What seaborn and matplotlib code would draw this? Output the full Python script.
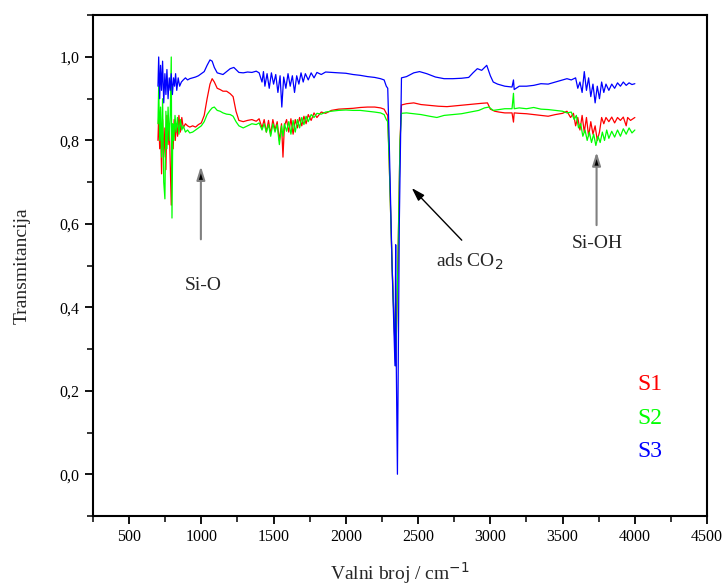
import numpy as np
import pandas as pd
import seaborn as sns
import matplotlib.pyplot as plt
from matplotlib.ticker import MultipleLocator, FuncFormatter

# S1 (red)
s1_x = [700, 705, 712, 718, 725, 732, 740, 748, 755, 762, 770, 778, 785, 792, 797, 805, 812, 820, 828, 836,
        845, 855, 865, 875, 890, 905, 920, 940, 960, 980, 1000, 1020, 1040, 1060, 1075, 1090, 1110, 1130,
        1150, 1175, 1200, 1220, 1240, 1260, 1290, 1320, 1350, 1380, 1400, 1420, 1435, 1450, 1465, 1480,
        1495, 1510, 1525, 1540, 1555, 1565, 1575, 1590, 1605, 1620, 1635, 1650, 1665, 1680, 1695, 1710,
        1725, 1740, 1760, 1780, 1800, 1830, 1860, 1900, 1950, 2000, 2050, 2100, 2150, 2200, 2240, 2265,
        2280, 2290, 2300, 2320, 2345, 2360, 2375, 2385, 2420, 2470, 2520, 2580, 2640, 2700, 2760, 2820,
        2880, 2940, 2980, 3000, 3030, 3060, 3100, 3150, 3160, 3165, 3200, 3250, 3300, 3350, 3400, 3450,
        3500, 3530, 3555, 3575, 3590, 3605, 3620, 3635, 3650, 3665, 3680, 3695, 3710, 3725, 3740, 3755,
        3770, 3785, 3800, 3820, 3840, 3860, 3880, 3900, 3920, 3940, 3950, 3970, 4000]
s1_y = [0.80, 0.86, 0.78, 0.84, 0.72, 0.85, 0.76, 0.83, 0.73, 0.86, 0.79, 0.84, 0.74, 0.645, 0.83, 0.78,
        0.85, 0.80, 0.84, 0.81, 0.86, 0.82, 0.855, 0.83, 0.84, 0.835, 0.832, 0.835, 0.832, 0.838, 0.842,
        0.86, 0.90, 0.935, 0.948, 0.94, 0.925, 0.922, 0.918, 0.918, 0.912, 0.905, 0.87, 0.848, 0.845,
        0.848, 0.85, 0.846, 0.852, 0.83, 0.85, 0.82, 0.848, 0.815, 0.85, 0.825, 0.845, 0.80, 0.84, 0.76,
        0.835, 0.85, 0.82, 0.852, 0.815, 0.85, 0.83, 0.855, 0.835, 0.858, 0.84, 0.862, 0.848, 0.866,
        0.855, 0.868, 0.865, 0.872, 0.875, 0.876, 0.877, 0.879, 0.88, 0.88, 0.878, 0.875, 0.865, 0.86,
        0.75, 0.50, 0.26, 0.50, 0.80, 0.885, 0.888, 0.89, 0.886, 0.884, 0.882, 0.881, 0.883, 0.885,
        0.887, 0.889, 0.89, 0.875, 0.87, 0.868, 0.866, 0.866, 0.844, 0.866, 0.865, 0.864, 0.862, 0.86,
        0.858, 0.862, 0.865, 0.87, 0.855, 0.865, 0.835, 0.855, 0.825, 0.86, 0.82, 0.855, 0.81, 0.845,
        0.815, 0.835, 0.80, 0.82, 0.855, 0.84, 0.855, 0.845, 0.856, 0.842, 0.855, 0.848, 0.856, 0.835,
        0.855, 0.848, 0.855]

# S2 (green)
s2_x = [700, 705, 712, 718, 725, 732, 740, 748, 755, 762, 770, 778, 785, 792, 797, 803, 810, 818, 826, 835,
        845, 855, 865, 875, 890, 905, 920, 940, 960, 980, 1000, 1020, 1040, 1060, 1075, 1090, 1110, 1130,
        1150, 1175, 1200, 1220, 1240, 1260, 1290, 1320, 1350, 1380, 1400, 1420, 1435, 1450, 1465, 1480,
        1495, 1510, 1525, 1540, 1555, 1565, 1575, 1590, 1605, 1620, 1635, 1650, 1665, 1680, 1695, 1710,
        1725, 1740, 1760, 1780, 1800, 1830, 1860, 1900, 1950, 2000, 2050, 2100, 2150, 2200, 2240, 2265,
        2280, 2290, 2300, 2320, 2345, 2360, 2375, 2385, 2420, 2470, 2520, 2580, 2630, 2680, 2740, 2800,
        2860, 2920, 2960, 2990, 3020, 3060, 3100, 3150, 3160, 3165, 3200, 3250, 3300, 3350, 3400, 3450,
        3500, 3530, 3560, 3580, 3595, 3610, 3625, 3640, 3655, 3670, 3685, 3700, 3715, 3730, 3745, 3760,
        3775, 3790, 3805, 3820, 3840, 3860, 3880, 3900, 3920, 3940, 3960, 3980, 4000]
s2_y = [0.84, 0.93, 0.80, 0.88, 0.76, 0.90, 0.70, 0.66, 0.87, 0.78, 0.88, 0.80, 0.86, 1.00, 0.614, 0.84,
        0.80, 0.86, 0.82, 0.855, 0.815, 0.85, 0.825, 0.835, 0.82, 0.825, 0.818, 0.82, 0.825, 0.83, 0.835,
        0.845, 0.862, 0.872, 0.878, 0.88, 0.872, 0.87, 0.866, 0.863, 0.862, 0.858, 0.845, 0.835, 0.83,
        0.835, 0.84, 0.838, 0.842, 0.825, 0.84, 0.82, 0.838, 0.81, 0.84, 0.82, 0.838, 0.79, 0.835, 0.81,
        0.84, 0.822, 0.845, 0.815, 0.848, 0.82, 0.85, 0.83, 0.855, 0.838, 0.858, 0.845, 0.862, 0.855,
        0.865, 0.863, 0.868, 0.87, 0.872, 0.873, 0.872, 0.872, 0.87, 0.868, 0.866, 0.862, 0.85, 0.845,
        0.75, 0.50, 0.26, 0.50, 0.80, 0.865, 0.866, 0.864, 0.862, 0.858, 0.855, 0.86, 0.862, 0.864,
        0.868, 0.872, 0.878, 0.88, 0.872, 0.874, 0.876, 0.876, 0.913, 0.876, 0.878, 0.876, 0.879, 0.875,
        0.874, 0.872, 0.87, 0.866, 0.868, 0.85, 0.86, 0.83, 0.84, 0.81, 0.825, 0.80, 0.82, 0.795, 0.815,
        0.788, 0.81, 0.795, 0.82, 0.80, 0.825, 0.805, 0.822, 0.808, 0.825, 0.81, 0.828, 0.815, 0.83,
        0.818, 0.825]

# S3 (blue)
s3_x = [700, 705, 712, 718, 725, 732, 740, 748, 755, 762, 770, 778, 785, 792, 800, 808, 815, 822, 830, 840,
        850, 862, 875, 890, 905, 920, 940, 960, 980, 1000, 1020, 1040, 1060, 1075, 1090, 1110, 1130, 1150,
        1175, 1200, 1225, 1240, 1260, 1290, 1320, 1350, 1380, 1400, 1420, 1430, 1440, 1455, 1470, 1485,
        1500, 1515, 1530, 1545, 1557, 1570, 1585, 1600, 1615, 1630, 1645, 1660, 1675, 1690, 1705, 1720,
        1740, 1760, 1780, 1800, 1830, 1860, 1900, 1950, 2000, 2050, 2100, 2150, 2200, 2240, 2265, 2280,
        2290, 2300, 2320, 2340, 2345, 2348, 2357, 2370, 2385, 2420, 2470, 2510, 2560, 2620, 2680, 2740,
        2800, 2850, 2880, 2910, 2940, 2960, 2975, 2985, 3000, 3020, 3050, 3100, 3150, 3160, 3165, 3200,
        3250, 3300, 3350, 3400, 3450, 3500, 3530, 3560, 3590, 3605, 3620, 3635, 3650, 3665, 3680, 3695,
        3710, 3725, 3740, 3755, 3770, 3785, 3800, 3820, 3840, 3860, 3880, 3900, 3920, 3940, 3960, 3980, 4000]
s3_y = [0.93, 1.00, 0.90, 0.98, 0.92, 0.99, 0.89, 0.96, 0.91, 0.97, 0.90, 0.95, 0.92, 0.96, 0.91, 0.95,
        0.93, 0.96, 0.92, 0.95, 0.93, 0.94, 0.945, 0.95, 0.945, 0.948, 0.95, 0.952, 0.955, 0.96, 0.965,
        0.98, 0.993, 0.99, 0.975, 0.962, 0.96, 0.958, 0.965, 0.972, 0.975, 0.97, 0.963, 0.962, 0.964,
        0.963, 0.966, 0.962, 0.94, 0.965, 0.93, 0.96, 0.925, 0.962, 0.935, 0.958, 0.915, 0.955, 0.88,
        0.952, 0.925, 0.96, 0.93, 0.955, 0.915, 0.955, 0.935, 0.962, 0.94, 0.96, 0.945, 0.962, 0.95,
        0.963, 0.958, 0.964, 0.963, 0.962, 0.961, 0.958, 0.956, 0.953, 0.951, 0.948, 0.945, 0.93, 0.925,
        0.80, 0.50, 0.26, 0.55, 0.30, 0.0, 0.60, 0.95, 0.953, 0.962, 0.965, 0.96, 0.952, 0.948, 0.948,
        0.949, 0.951, 0.962, 0.972, 0.968, 0.975, 0.98, 0.97, 0.955, 0.94, 0.935, 0.93, 0.928, 0.945,
        0.922, 0.93, 0.93, 0.932, 0.936, 0.935, 0.94, 0.945, 0.948, 0.945, 0.95, 0.925, 0.94, 0.915,
        0.965, 0.92, 0.95, 0.905, 0.935, 0.89, 0.93, 0.90, 0.94, 0.915, 0.935, 0.92, 0.935, 0.925, 0.938,
        0.93, 0.94, 0.932, 0.938, 0.934, 0.936]

names = ['S1', 'S2', 'S3']
colors = ['#ff0000', '#00ff00', '#0000ff']

df = pd.concat([
    pd.DataFrame({'x': s1_x, 'y': s1_y, 'uzorak': 'S1'}),
    pd.DataFrame({'x': s2_x, 'y': s2_y, 'uzorak': 'S2'}),
    pd.DataFrame({'x': s3_x, 'y': s3_y, 'uzorak': 'S3'}),
], ignore_index=True)

sns.set_style('ticks')
plt.rcParams['font.family'] = ['Liberation Serif', 'DejaVu Serif']

fig = plt.figure(figsize=(7.26, 5.87), dpi=100)
ax = fig.add_axes([0.128, 0.121, 0.846, 0.853])

sns.lineplot(data=df, x='x', y='y', hue='uzorak', palette=dict(zip(names, colors)),
             estimator=None, sort=False, linewidth=0.9, legend=False, ax=ax)

ax.set_xlim(250, 4500)
ax.set_ylim(-0.1, 1.1)
ax.set_xticks(np.arange(500, 4501, 500))
ax.set_yticks(np.arange(0, 1.01, 0.2))
ax.xaxis.set_minor_locator(MultipleLocator(250))
ax.yaxis.set_minor_locator(MultipleLocator(0.1))
ax.yaxis.set_major_formatter(FuncFormatter(lambda v, p: f'{v:.1f}'.replace('.', ',')))
ax.tick_params(which='major', direction='out', length=6, width=1.3, labelsize=11.5, colors='black')
ax.tick_params(which='minor', direction='out', length=4, width=1.3)
for s in ax.spines.values():
    s.set_linewidth(1.5)
    s.set_color('black')
    s.set_visible(True)

ax.set_xlabel('Valni broj / cm$^{\\mathrm{-1}}$', fontsize=14, labelpad=11)
ax.set_ylabel('Transmitancija', fontsize=14, labelpad=21)

head = '-|>,head_length=0.8,head_width=0.25'
ax.annotate('', xy=(997, 0.738), xytext=(997, 0.563),
            arrowprops=dict(arrowstyle=head, ec='#808080', fc='black', lw=1.5, shrinkA=0, shrinkB=0))
ax.annotate('', xy=(3735, 0.772), xytext=(3735, 0.597),
            arrowprops=dict(arrowstyle=head, ec='#808080', fc='black', lw=1.5, shrinkA=0, shrinkB=0))
ax.annotate('', xy=(2456, 0.686), xytext=(2802, 0.561),
            arrowprops=dict(arrowstyle=head, color='black', lw=1.0, shrinkA=0, shrinkB=0))

ax.text(1010, 0.453, 'Si-O', fontsize=14, ha='center', va='center')
ax.text(3740, 0.554, 'Si-OH', fontsize=14, ha='center', va='center')
ax.text(2860, 0.508, 'ads CO$_2$', fontsize=14, ha='center', va='center')

for i, (n, c) in enumerate(zip(names, colors)):
    ax.text(4015, 0.214 - i * 0.08, n, color=c, fontsize=17, ha='left', va='center')

plt.savefig('out.png', dpi=100)
